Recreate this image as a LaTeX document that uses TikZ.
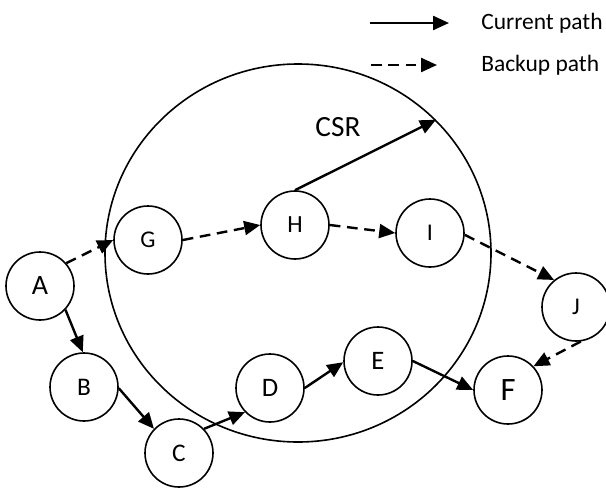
\documentclass[tikz,border=0pt]{standalone}
\usepackage{fontspec}
\setmainfont{Carlito}
\usetikzlibrary{arrows.meta,shapes.geometric}
\tikzset{
  nd/.style={circle,draw,line width=1.2pt,minimum size=51pt,inner sep=0pt},
  cur/.style={line width=1.8pt,-{Triangle[length=12pt,width=10.5pt]}},
  bak/.style={line width=1.8pt,dash pattern=on 8pt off 5pt,-{Triangle[length=12pt,width=10.5pt]}},
}
\begin{document}
\begin{tikzpicture}[x=0.75pt,y=-0.75pt]
\clip (0,0) rectangle (606,489);
\useasboundingbox (0,0) rectangle (606,489);
% big region
\node[ellipse,draw,line width=1.2pt,minimum width=289.5pt,minimum height=283.5pt,inner sep=0pt] (csr) at (298,253) {};
\node[font=\fontsize{22}{25}\selectfont] (csrlabel) at (338,127) {CSR};
% nodes
\node[nd,font=\fontsize{21}{24}\selectfont] (A) at (40,286) {A};
\node[nd,font=\fontsize{19}{22}\selectfont] (B) at (84,387) {B};
\node[nd,font=\fontsize{19}{22}\selectfont] (C) at (179,453) {C};
\node[nd,font=\fontsize{20}{23}\selectfont] (D) at (270,388) {D};
\node[nd,font=\fontsize{20}{23}\selectfont] (E) at (378,361) {E};
\node[nd,font=\fontsize{24.5}{28}\selectfont] (F) at (508,390) {F};
\node[nd,font=\fontsize{18}{21}\selectfont] (G) at (148,240) {G};
\node[nd,font=\fontsize{18.5}{21}\selectfont] (H) at (295,225) {H};
\node[nd,font=\fontsize{18}{21}\selectfont] (I) at (430,233) {I};
\node[nd,font=\fontsize{18}{21}\selectfont] (J) at (576,307) {J};
% current path
\draw[cur] (A.-43) -- (B.92);
\draw[cur] (B.-2) -- (C.136);
\draw[cur] (C.44) -- (D.224);
\draw[cur] (D.east) -- (E.182);
\draw[cur] (E.east) -- (F.west);
\draw[cur] (H.north) -- (csr.44);
% backup path
\draw[bak] (A.41) -- (G.west);
\draw[bak] (G.east) -- (H.west);
\draw[bak] (H.east) -- (I.west);
\draw[bak] (I.-3) -- (J.129);
\draw[bak] (J.-82) -- (F.43);
% legend
\coordinate (l1a) at (370,23);
\coordinate (l1b) at (449,23);
\coordinate (l2a) at (371,65);
\coordinate (l2b) at (437,65);
\draw[cur] (l1a) -- (l1b);
\draw[bak] (l2a) -- (l2b);
\node[anchor=west,inner sep=0pt,font=\fontsize{17.6}{20}\selectfont] (t1) at (481,23) {Current path};
\node[anchor=west,inner sep=0pt,font=\fontsize{17.6}{20}\selectfont] (t2) at (481,65) {Backup path};
\end{tikzpicture}
\end{document}
